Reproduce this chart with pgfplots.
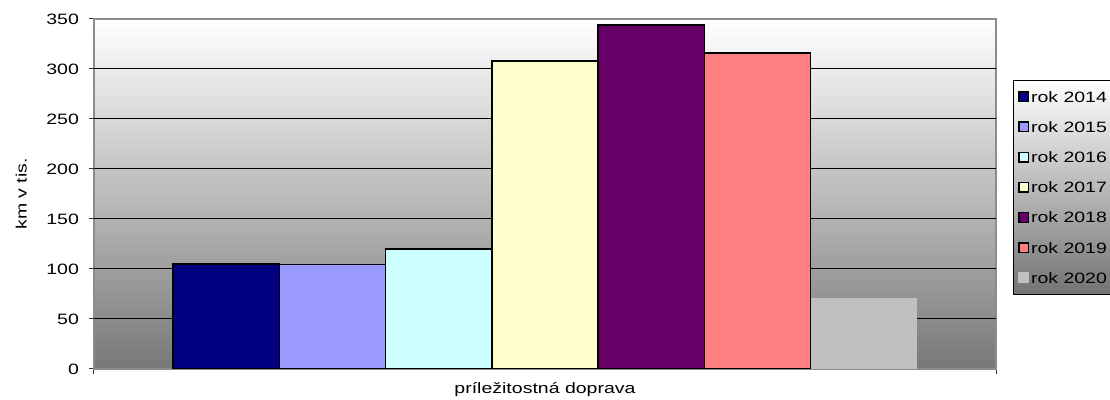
\documentclass[border=0pt]{standalone}
\usepackage{pgfplots}
\pgfplotsset{compat=1.18}
\usepackage{fontspec}
\setmainfont{Liberation Sans}[FakeStretch=1.3]
\definecolor{c14}{HTML}{000080}
\definecolor{c15}{HTML}{9999FF}
\definecolor{c16}{HTML}{CCFFFF}
\definecolor{c17}{HTML}{FFFFCC}
\definecolor{c18}{HTML}{660066}
\definecolor{c19}{HTML}{FF8080}
\definecolor{c20}{HTML}{C0C0C0}
\newcommand{\chartfont}{\fontsize{7.5}{8.5}\selectfont}
\begin{document}
\begin{tikzpicture}
\useasboundingbox (-47pt,-15.5pt) rectangle (508pt,184.5pt);
\begin{axis}[
    at={(0,0)}, anchor=south west,
    scale only axis,
    width=451pt, height=175pt,
    ybar,
    bar width=1,
    xmin=-4.243, xmax=4.243,
    ymin=0, ymax=350,
    ytick={0,50,...,350},
    extra y ticks={50,100,...,300},
    extra y tick labels={},
    extra y tick style={grid=major, major grid style={black, line width=0.5pt}},
    xtick={-4.243,4.243},
    xticklabels={},
    xtick pos=bottom, ytick pos=left,
    tick align=outside,
    major tick length=2.5pt,
    tick style={black!80, line width=0.5pt},
    axis line style={black!45, line width=0.6pt},
    font=\chartfont,
    ticklabel style={font=\chartfont},
    yticklabel style={xshift=-1.5pt},
    /pgf/number format/assume math mode=true,
    ylabel={km v tis.},
    ylabel style={font=\chartfont, yshift=-2pt},
    xlabel={príležitostná doprava},
    xlabel style={font=\chartfont, yshift=6pt},
    axis background/.style={shade, top color=white, bottom color=black!53},
    legend style={at={(1.0188,0.8257)}, anchor=north west,
        shade, top color=white, bottom color=black!55,
        draw=black, line width=0.5pt,
        font=\chartfont,
        row sep=9.6pt, column sep=0pt, inner xsep=2.5pt, inner ysep=5.4pt,
        /tikz/every node/.style={anchor=west, inner xsep=0.8pt, inner ysep=0pt,
            text height=5.4pt, text depth=0pt}},
    legend cell align=left,
    legend image code/.code={\draw[#1, line width=0.7pt] (0pt,-2.4pt) rectangle (4.8pt,2.4pt);},
]
\addplot[bar shift=0pt, fill=c14, draw=black, line width=0.7pt] coordinates {(-3,105)};
\addplot[bar shift=0pt, fill=c15, draw=black, line width=0.7pt] coordinates {(-2,104.5)};
\addplot[bar shift=0pt, fill=c16, draw=black, line width=0.7pt] coordinates {(-1,120)};
\addplot[bar shift=0pt, fill=c17, draw=black, line width=0.7pt] coordinates {(0,308)};
\addplot[bar shift=0pt, fill=c18, draw=black, line width=0.7pt] coordinates {(1,344)};
\addplot[bar shift=0pt, fill=c19, draw=black, line width=0.7pt] coordinates {(2,316)};
\addplot[bar shift=0pt, fill=c20, draw=none,
    legend image code/.code={\fill[c20] (-0.35pt,-2.75pt) rectangle (5.15pt,2.75pt);}]
    coordinates {(3,71)};
\legend{rok 2014,rok 2015,rok 2016,rok 2017,rok 2018,rok 2019,rok 2020}
\end{axis}
\end{tikzpicture}
\end{document}
